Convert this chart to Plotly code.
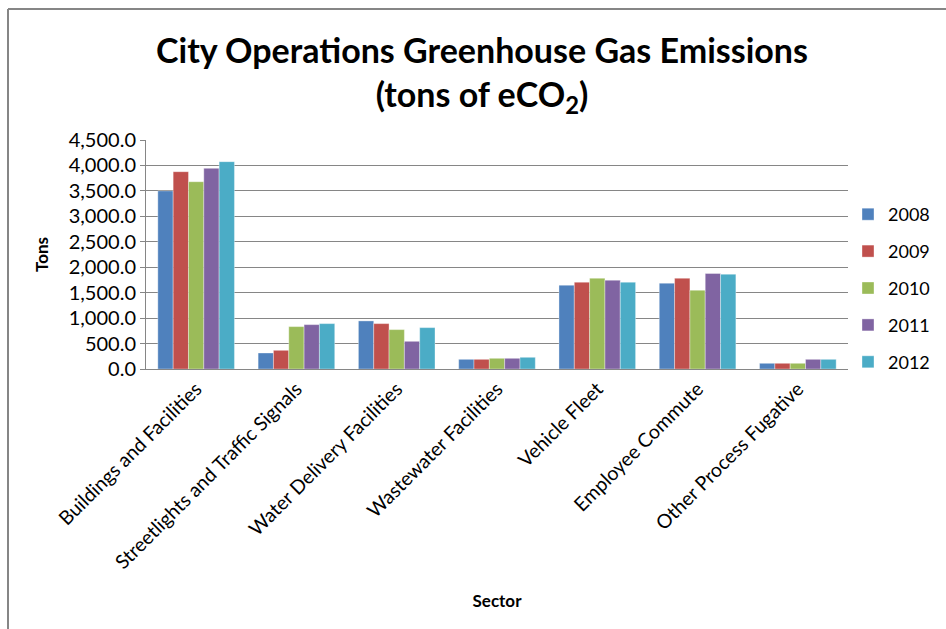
import plotly.graph_objects as go

# Emissions by sector and year (tons of eCO2)
sectors = [
    "Buildings and Facilities",
    "Streetlights and Traffic Signals",
    "Water Delivery Facilities",
    "Wastewater Facilities",
    "Vehicle Fleet",
    "Employee Commute",
    "Other Process Fugative",
]
years = ["2008", "2009", "2010", "2011", "2012"]
tons_2008 = [3500, 315, 945, 190, 1647, 1686, 112]
tons_2009 = [3877, 367, 892, 190, 1706, 1784, 112]
tons_2010 = [3680, 833, 774, 210, 1784, 1548, 112]
tons_2011 = [3943, 872, 544, 210, 1745, 1876, 190]
tons_2012 = [4074, 892, 813, 230, 1706, 1863, 190]
series = [tons_2008, tons_2009, tons_2010, tons_2011, tons_2012]
colors = ["#4F81BD", "#C0504D", "#9BBB59", "#8064A2", "#4BACC6"]

W, H = 946, 629
L, R, T, B = 146, 98, 140, 260
pw, ph = W - L - R, H - T - B


def px_x(x):
    return (x - L) / pw


def px_y(y):
    return (H - B - y) / ph


FONT = "Lato, 'Open Sans', sans-serif"

fig = go.Figure()
for yr, vals, c in zip(years, series, colors):
    fig.add_trace(go.Bar(
        x=sectors, y=vals, name=yr, legendgroup=yr,
        marker=dict(color=c, line=dict(color="rgba(255,255,255,0.6)", width=0.6)),
    ))

fig.update_layout(
    width=W, height=H,
    margin=dict(l=L, r=R, t=T, b=B, autoexpand=False),
    paper_bgcolor="white", plot_bgcolor="white",
    barmode="group", bargap=0.236, bargroupgap=0,
    font=dict(family=FONT, color="#000000"),
    showlegend=True,
    legend=dict(
        x=px_x(848), xanchor="left", y=px_y(196), yanchor="top",
        font=dict(family=FONT, size=18, color="#000000"),
        traceorder="grouped", tracegroupgap=10.5,
        bgcolor="rgba(0,0,0,0)",
    ),
    xaxis=dict(
        tickangle=-45, tickfont=dict(family=FONT, size=19.5, color="#000000"),
        showline=True, linecolor="#868686", linewidth=1,
        showgrid=False, ticks="",
        title=dict(text="<b>Sector</b>", font=dict(family=FONT, size=17), standoff=22),
    ),
    yaxis=dict(
        range=[0, 4500], dtick=500, tickformat=",.1f",
        tickfont=dict(family=FONT, size=20, color="#000000"),
        showline=True, linecolor="#868686", linewidth=1,
        showgrid=True, gridcolor="#868686", gridwidth=1,
        ticks="outside", ticklen=5, tickcolor="#868686",
        zeroline=False,
        title=dict(text="<b>Tons</b>", font=dict(family=FONT, size=17), standoff=15),
    ),
)

# Chart title
fig.add_annotation(
    text="<b>City Operations Greenhouse Gas Emissions<br>(tons of eCO<sub>2</sub>)</b>",
    font=dict(family=FONT, size=34, color="#000000"),
    xref="paper", yref="paper", x=px_x(482), y=px_y(74),
    xanchor="center", yanchor="middle", showarrow=False, align="center",
)

# Chart frame (top and left edges)
frame = dict(color="#868686", width=2)
fig.add_shape(type="line", xref="paper", yref="paper",
              x0=px_x(8), y0=px_y(9), x1=px_x(W + 5), y1=px_y(9), line=frame)
fig.add_shape(type="line", xref="paper", yref="paper",
              x0=px_x(8), y0=px_y(9), x1=px_x(8), y1=px_y(H + 5), line=frame)

fig.write_html("out.html")
